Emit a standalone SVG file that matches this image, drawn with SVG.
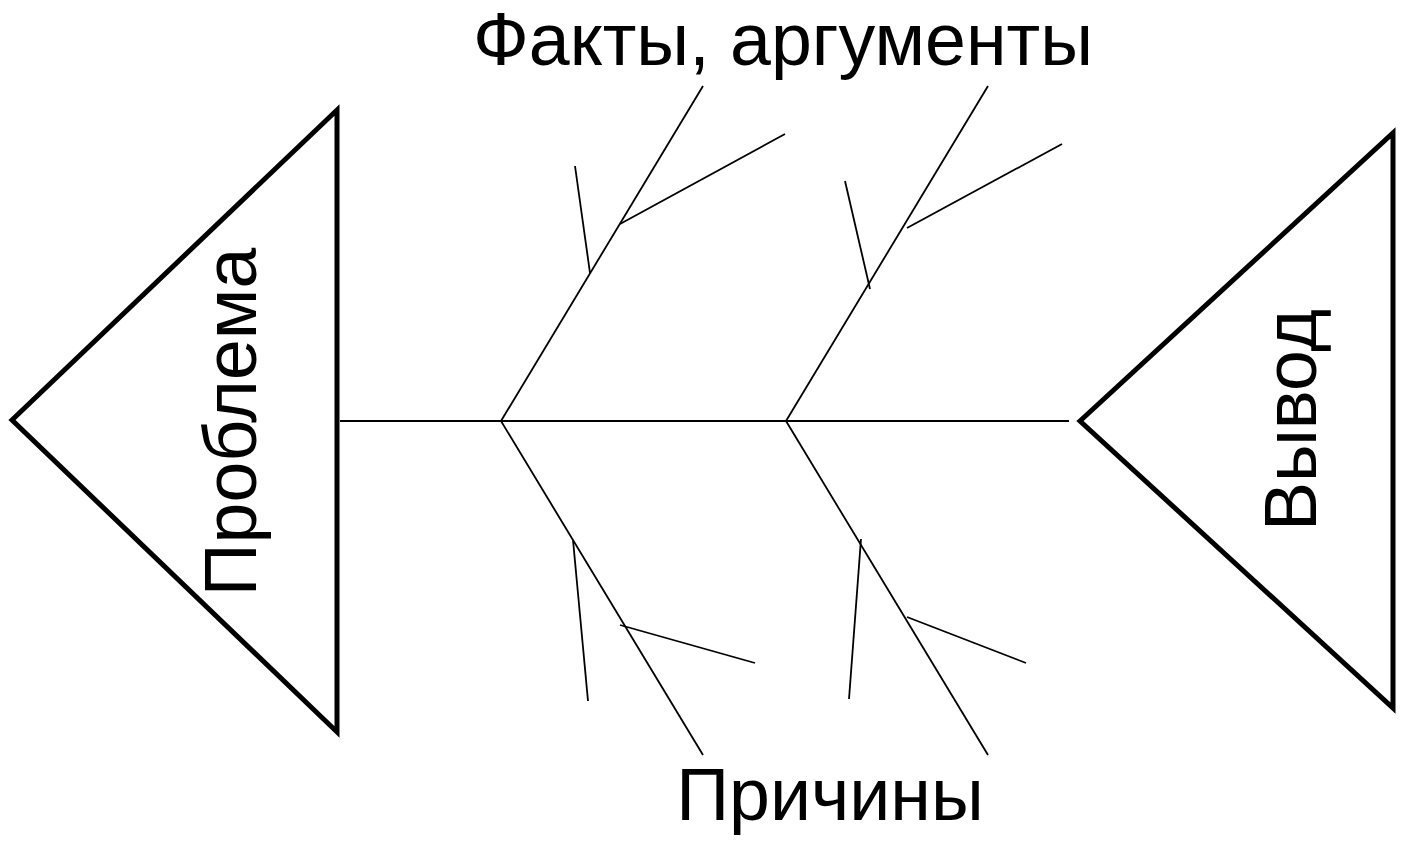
<svg xmlns="http://www.w3.org/2000/svg" width="1402" height="843" viewBox="0 0 1402 843">
<style>
.tri{fill:none;stroke:#000;stroke-width:5;stroke-linejoin:miter;stroke-linecap:round}
.ln{stroke:#000;stroke-width:1.8;fill:none}
.t{font-family:"Liberation Sans",Arial,sans-serif;font-size:73.5px;fill:#000}
</style>
<rect width="1402" height="843" fill="#fff"/>
<g id="problem">
<polygon class="tri" points="12,420 337,110 337,732"/>
<text class="t" transform="translate(256,422) rotate(-90)" text-anchor="middle">Проблема</text>
</g>
<g id="conclusion">
<polygon class="tri" points="1080,421 1393,133 1393,708"/>
<text class="t" transform="translate(1316,420) rotate(-90)" text-anchor="middle">Вывод</text>
</g>
<g id="facts-label">
<text class="t" x="783" y="65" text-anchor="middle">Факты, аргументы</text>
</g>
<g id="causes-label">
<text class="t" x="830" y="820" text-anchor="middle">Причины</text>
</g>
<g id="connectors">
<line class="ln" x1="340" y1="421" x2="1069" y2="421"/>
<line class="ln" x1="501" y1="421" x2="703" y2="86"/>
<line class="ln" x1="786" y1="421" x2="988" y2="86"/>
<line class="ln" x1="501" y1="421" x2="703" y2="755"/>
<line class="ln" x1="786" y1="421" x2="988" y2="755"/>
<line class="ln" x1="620" y1="224" x2="785" y2="134"/>
<line class="ln" x1="575" y1="166" x2="590" y2="273"/>
<line class="ln" x1="907" y1="228" x2="1062" y2="144"/>
<line class="ln" x1="845" y1="181" x2="870" y2="289"/>
<line class="ln" x1="573" y1="540" x2="588" y2="701"/>
<line class="ln" x1="620" y1="625" x2="755" y2="663"/>
<line class="ln" x1="861" y1="539" x2="849" y2="699"/>
<line class="ln" x1="907" y1="617" x2="1026" y2="663"/>
</g>
</svg>
